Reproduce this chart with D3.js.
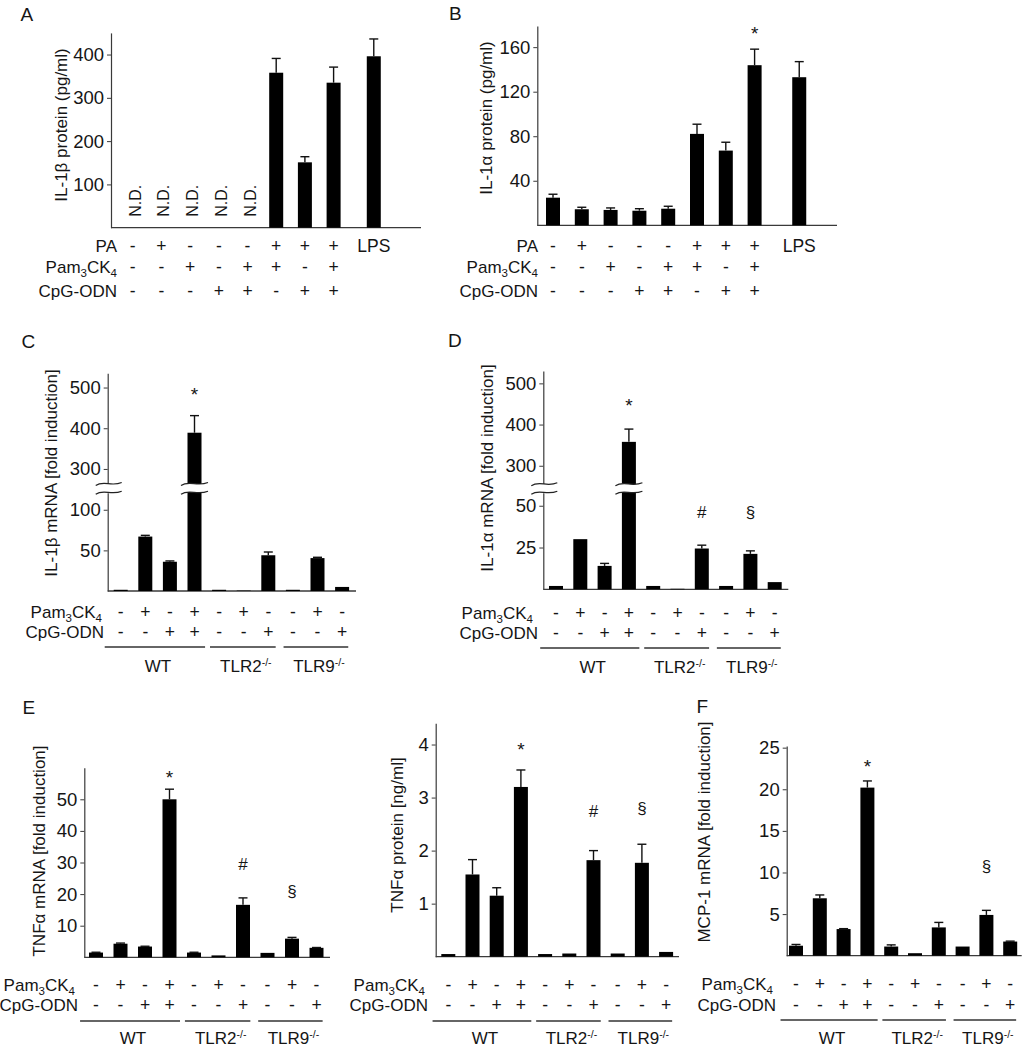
<!DOCTYPE html>
<html><head><meta charset="utf-8">
<script src="https://cdn.jsdelivr.net/npm/d3@7"></script>
<style>body{margin:0;background:#fff}svg{display:block}</style>
</head><body>
<svg id="fig" width="1026" height="1050"></svg>
<script>
// ---------------- DATA ----------------
const abRowNames = ["PA", "Pam3CK4", "CpG-ODN"];
const abPA  = ["-","+","-","-","-","+","+","+","LPS"];
const abPam = ["-","-","+","-","+","+","-","+",""];
const abCpG = ["-","-","-","+","+","-","+","+",""];

const il1bProtein      = [null,null,null,null,null,358,151,335,396];
const il1bProteinErr   = [0,0,0,0,0,33,13,36,40];
const il1bProteinTicks = [100,200,300,400];

const il1aProtein      = [24.8,14.4,13.8,13.1,14.9,82.1,67.1,143.8,133];
const il1aProteinErr   = [3.1,1.8,1.8,1.8,2.2,8.7,7.5,14.4,14];
const il1aProteinTicks = [40,80,120,160];
const il1aProteinMarks = [{i:7, s:"*", v:176}];

const koRowNames = ["Pam3CK4", "CpG-ODN"];
const koPam = ["-","+","-","+","-","+","-","-","+","-"];
const koCpG = ["-","-","+","+","-","-","+","-","-","+"];
const koGroups = ["WT","TLR2-/-","TLR9-/-"];
const koGroupSpans = [[-0.65,3.43],[3.63,6.3],[6.62,9.25]];

const il1bMrna          = [1.5,67,36,389,1.5,0.5,44,1.5,40.5,5];
const il1bMrnaErr       = [0,1.5,1,42,0,0,4,0,1,0];
const il1bMrnaTicksLow  = [50,100];
const il1bMrnaTicksHigh = [300,400,500];
const il1bMrnaMarks     = [{i:3, s:"*", v:494}];

const il1aMrna          = [2,30,14,358,2,0.3,24.4,2,21.2,4.3];
const il1aMrnaErr       = [0,0,1.5,31,0,0,2,0,1.8,0];
const il1aMrnaTicksLow  = [25,50];
const il1aMrnaTicksHigh = [300,400,500];
const il1aMrnaMarks     = [{i:3, s:"*", v:457},{i:6, s:"#", v:46.4},{i:8, s:"§", v:45.8}];

const tnfMrna      = [1.5,4.3,3.4,50,1.5,0.6,16.6,1.4,5.9,3];
const tnfMrnaErr   = [0.1,0.2,0.1,3.2,0.1,0,2.2,0,0.4,0.1];
const tnfMrnaTicks = [10,20,30,40,50];
const tnfMrnaMarks = [{i:3, s:"*", v:58.2},{i:6, s:"#", v:29.7},{i:8, s:"§", v:20.8}];

const tnfProtein      = [0.05,1.55,1.15,3.2,0.05,0.06,1.82,0.06,1.77,0.09];
const tnfProteinErr   = [0,0.28,0.15,0.32,0,0,0.18,0,0.35,0];
const tnfProteinTicks = [1,2,3,4];
const tnfProteinMarks = [{i:3, s:"*", v:3.99},{i:6, s:"#", v:2.75},{i:8, s:"§", v:2.78}];

const mcpMrna      = [1.2,6.9,3.2,20.2,1.1,0.3,3.4,1.1,4.9,1.7];
const mcpMrnaErr   = [0.15,0.4,0.05,0.8,0.2,0,0.6,0,0.55,0.05];
const mcpMrnaTicks = [5,10,15,20,25];
const mcpMrnaMarks = [{i:3, s:"*", v:23.3},{i:8, s:"§", v:10.7}];

// ---------------- HELPERS ----------------
const FONT = "'Liberation Sans', Arial, Helvetica, sans-serif";
const INK = "#151515";
const AX = "#3a3a3a";
const svg = d3.select("#fig");

function txt(g, x, y, s, size, anchor) {
  return g.append("text").attr("x", x).attr("y", y).text(s)
    .attr("font-family", FONT).attr("font-size", size)
    .attr("fill", INK).attr("text-anchor", anchor || "start");
}
function letter(x, y, s) { txt(svg, x, y, s, 19); }

function yTitle(g, bx, cy, s) {
  g.append("text").attr("transform", `translate(${bx},${cy}) rotate(-90)`)
    .attr("text-anchor", "middle").attr("font-family", FONT)
    .attr("font-size", 17).attr("fill", INK).text(s);
}

function yAxis(g, scale, ticks, axisX) {
  const a = g.append("g").attr("transform", `translate(${axisX},0)`)
    .call(d3.axisLeft(scale).tickValues(ticks).tickFormat(d => String(d))
      .tickSize(4).tickSizeOuter(0).tickPadding(3));
  a.select(".domain").attr("stroke", AX).attr("stroke-width", 1.2);
  a.selectAll(".tick line").attr("stroke", AX).attr("stroke-width", 1);
  a.selectAll(".tick text").attr("font-family", FONT).attr("font-size", 18.5).attr("fill", INK);
  return a;
}
function xLine(g, x1, x2, y) {
  g.append("line").attr("x1", x1).attr("x2", x2).attr("y1", y).attr("y2", y)
    .attr("stroke", AX).attr("stroke-width", 1.3);
}
function bars(g, xs, y, base, vals, errs, w) {
  vals.forEach((v, i) => {
    if (v === null) return;
    const cx = xs(i);
    g.append("rect").attr("x", cx - w / 2).attr("width", w)
      .attr("y", y(v)).attr("height", base - y(v)).attr("fill", "#000");
    if (errs[i] > 0) {
      const yt = y(v + errs[i]);
      g.append("line").attr("x1", cx).attr("x2", cx).attr("y1", y(v)).attr("y2", yt)
        .attr("stroke", "#111").attr("stroke-width", 1.4);
      g.append("line").attr("x1", cx - 4.5).attr("x2", cx + 4.5).attr("y1", yt).attr("y2", yt)
        .attr("stroke", "#111").attr("stroke-width", 1.4);
    }
  });
}
function rowName(g, xr, yc, name) {
  const t = g.append("text").attr("x", xr).attr("y", yc + 6)
    .attr("font-family", FONT).attr("font-size", 17).attr("fill", INK).attr("text-anchor", "end");
  const m = name.match(/^Pam(\d)CK(\d)$/);
  if (m) {
    t.append("tspan").text("Pam");
    t.append("tspan").attr("dy", 4).attr("font-size", 11.5).text(m[1]);
    t.append("tspan").attr("dy", -4).text("CK");
    t.append("tspan").attr("dy", 4).attr("font-size", 11.5).text(m[2]);
  } else t.text(name);
}
function signRow(g, xs, yc, signs, xr, name) {
  rowName(g, xr, yc, name);
  signs.forEach((s, i) => {
    if (!s) return;
    txt(g, xs(i), yc + 6, s, 17.5, "middle");
  });
}
function groupRow(g, xs, yLine, yText) {
  koGroups.forEach((name, k) => {
    const [a, b] = koGroupSpans[k];
    const x1 = xs(a), x2 = xs(b);
    g.append("line").attr("x1", x1).attr("x2", x2).attr("y1", yLine).attr("y2", yLine)
      .attr("stroke", "#333").attr("stroke-width", 1.3);
    const t = g.append("text").attr("x", (x1 + x2) / 2 + 3).attr("y", yText + 6.3)
      .attr("font-family", FONT).attr("font-size", 17).attr("fill", INK).attr("text-anchor", "middle");
    const parts = name.split(/(-\/-)/);
    t.append("tspan").text(parts[0]);
    if (parts[1]) t.append("tspan").attr("dy", -6).attr("font-size", 10.5).text(parts[1]);
  });
}
const markOff = {"*": 0.57, "#": 0.36, "§": 0.3};
function marks(g, xs, y, list) {
  list.forEach(m => {
    const size = m.s === "*" ? 19 : 17;
    txt(g, xs(m.i), y(m.v) + markOff[m.s] * size, m.s, size, "middle");
  });
}
function wave(xa, xb, yc) {
  const w = xb - xa;
  return `M${xa},${yc + 1.5} C${xa + w * 0.3},${yc - 4} ${xa + w * 0.6},${yc + 3} ${xb},${yc - 1.5}`;
}
function breakMark(g, xa, xb, yTop, yBot) {
  const w = xb - xa;
  const fill = wave(xa, xb, yTop) +
    ` L${xb},${yBot - 1.5} C${xa + w * 0.6},${yBot + 3} ${xa + w * 0.3},${yBot - 4} ${xa},${yBot + 1.5} Z`;
  g.append("path").attr("d", fill).attr("fill", "#fff");
  g.append("path").attr("d", wave(xa, xb, yTop)).attr("fill", "none").attr("stroke", "#222").attr("stroke-width", 1.2);
  g.append("path").attr("d", wave(xa, xb, yBot)).attr("fill", "none").attr("stroke", "#222").attr("stroke-width", 1.2);
}
function broken(lower, upper) {
  const lim = lower.domain()[1];
  return v => v <= lim ? lower(v) : upper(v);
}

// ---------------- PANEL A ----------------
{
  const g = svg.append("g");
  const axisX = 111, base = 227.7;
  const idx = i => i === 8 ? 8.4 : i;
  const xs = d3.scaleLinear().domain([0, 1]).range([132.7, 161.4]);
  const xf = i => xs(idx(i));
  const y = d3.scaleLinear().domain([0, 450]).range([base, 32.9]);
  letter(20.5, 20.7, "A");
  yAxis(g, y, il1bProteinTicks, axisX);
  xLine(g, axisX, 421, base);
  bars(g, xf, y, base, il1bProtein, il1bProteinErr, 14);
  il1bProtein.forEach((v, i) => {
    if (v !== null) return;
    g.append("text").attr("transform", `translate(${xf(i) + 8},${base - 11}) rotate(-90)`)
      .attr("font-family", FONT).attr("font-size", 16).attr("fill", INK).text("N.D.");
  });
  yTitle(g, 66.7, 125, "IL-1β protein (pg/ml)");
  [abPA, abPam, abCpG].forEach((row, r) => signRow(g, xf, [246, 267, 291][r], row, 117, abRowNames[r]));
}

// ---------------- PANEL B ----------------
{
  const g = svg.append("g");
  const axisX = 537.3, base = 225.3;
  const idx = i => i === 8 ? 8.55 : i;
  const xs = d3.scaleLinear().domain([0, 1]).range([553, 581.8]);
  const xf = i => xs(idx(i));
  const y = d3.scaleLinear().domain([0, 179]).range([base, 26]);
  letter(449, 20, "B");
  yAxis(g, y, il1aProteinTicks, axisX);
  xLine(g, axisX, 837, base);
  bars(g, xf, y, base, il1aProtein, il1aProteinErr, 14);
  marks(g, xf, y, il1aProteinMarks);
  yTitle(g, 491.7, 118, "IL-1α protein (pg/ml)");
  [abPA, abPam, abCpG].forEach((row, r) => signRow(g, xf, [246, 267, 291][r], row, 538, abRowNames[r]));
}

// ---------------- PANEL C ----------------
{
  const g = svg.append("g");
  const axisX = 107.7, base = 591;
  const xs = d3.scaleLinear().domain([0, 1]).range([120.7, 145.3]);
  const low = d3.scaleLinear().domain([0, 121]).range([base, 492.7]);
  const high = d3.scaleLinear().domain([263, 535]).range([484, 373.3]);
  const y = broken(low, high);
  letter(21.5, 348, "C");
  yAxis(g, low, il1bMrnaTicksLow, axisX);
  yAxis(g, high, il1bMrnaTicksHigh, axisX);
  xLine(g, axisX, 356, base);
  bars(g, xs, y, base, il1bMrna, il1bMrnaErr, 14);
  breakMark(g, axisX - 12, axisX + 14, 484, 492.7);
  breakMark(g, xs(3) - 13.5, xs(3) + 13.5, 484, 492.7);
  marks(g, xs, y, il1bMrnaMarks);
  yTitle(g, 57.3, 473, "IL-1β mRNA [fold induction]");
  signRow(g, xs, 612, koPam, 102, koRowNames[0]);
  signRow(g, xs, 632, koCpG, 104, koRowNames[1]);
  groupRow(g, xs, 647, 666);
}

// ---------------- PANEL D ----------------
{
  const g = svg.append("g");
  const axisX = 543.3, base = 589.3;
  const xs = d3.scaleLinear().domain([0, 1]).range([556, 580.3]);
  const low = d3.scaleLinear().domain([0, 57.8]).range([base, 492.7]);
  const high = d3.scaleLinear().domain([255, 530]).range([484.3, 371]);
  const y = broken(low, high);
  letter(448, 347, "D");
  yAxis(g, low, il1aMrnaTicksLow, axisX);
  yAxis(g, high, il1aMrnaTicksHigh, axisX);
  xLine(g, axisX, 788.3, base);
  bars(g, xs, y, base, il1aMrna, il1aMrnaErr, 14);
  breakMark(g, axisX - 12, axisX + 14, 484.3, 492.7);
  breakMark(g, xs(3) - 13.5, xs(3) + 13.5, 484.3, 492.7);
  marks(g, xs, y, il1aMrnaMarks);
  yTitle(g, 493, 468, "IL-1α mRNA [fold induction]");
  signRow(g, xs, 613, koPam, 533, koRowNames[0]);
  signRow(g, xs, 633, koCpG, 538, koRowNames[1]);
  groupRow(g, xs, 648, 667);
}

// ---------------- PANEL E (left) ----------------
{
  const g = svg.append("g");
  const axisX = 84.3, base = 957.3;
  const xs = d3.scaleLinear().domain([0, 1]).range([96, 120.5]);
  const y = d3.scaleLinear().domain([0, 60]).range([base, 767.7]);
  letter(22.5, 714, "E");
  yAxis(g, y, tnfMrnaTicks, axisX);
  xLine(g, axisX, 330, base);
  bars(g, xs, y, base, tnfMrna, tnfMrnaErr, 14);
  marks(g, xs, y, tnfMrnaMarks);
  yTitle(g, 45, 851, "TNFα mRNA [fold induction]");
  signRow(g, xs, 985, koPam, 75, koRowNames[0]);
  signRow(g, xs, 1005, koCpG, 78, koRowNames[1]);
  groupRow(g, xs, 1021, 1038);
}

// ---------------- PANEL E (right) ----------------
{
  const g = svg.append("g");
  const axisX = 435.7, base = 956.7;
  const xs = d3.scaleLinear().domain([0, 1]).range([448.3, 472.5]);
  const y = d3.scaleLinear().domain([0, 4.4]).range([base, 723.3]);
  yAxis(g, y, tnfProteinTicks, axisX);
  xLine(g, axisX, 679, base);
  bars(g, xs, y, base, tnfProtein, tnfProteinErr, 14);
  marks(g, xs, y, tnfProteinMarks);
  yTitle(g, 403, 835, "TNFα protein [ng/ml]");
  signRow(g, xs, 985, koPam, 425, koRowNames[0]);
  signRow(g, xs, 1005, koCpG, 428, koRowNames[1]);
  groupRow(g, xs, 1021, 1038);
}

// ---------------- PANEL F ----------------
{
  const g = svg.append("g");
  const axisX = 786.7, base = 955.7;
  const xs = d3.scaleLinear().domain([0, 1]).range([796, 819.8]);
  const y = d3.scaleLinear().domain([0, 25.2]).range([base, 746]);
  letter(696.5, 712.5, "F");
  yAxis(g, y, mcpMrnaTicks, axisX);
  xLine(g, axisX, 1021.7, base);
  bars(g, xs, y, base, mcpMrna, mcpMrnaErr, 14);
  marks(g, xs, y, mcpMrnaMarks);
  yTitle(g, 710, 832, "MCP-1 mRNA [fold induction]");
  signRow(g, xs, 984, koPam, 773, koRowNames[0]);
  signRow(g, xs, 1005, koCpG, 776, koRowNames[1]);
  groupRow(g, xs, 1020, 1038);
}
</script>
</body></html>
